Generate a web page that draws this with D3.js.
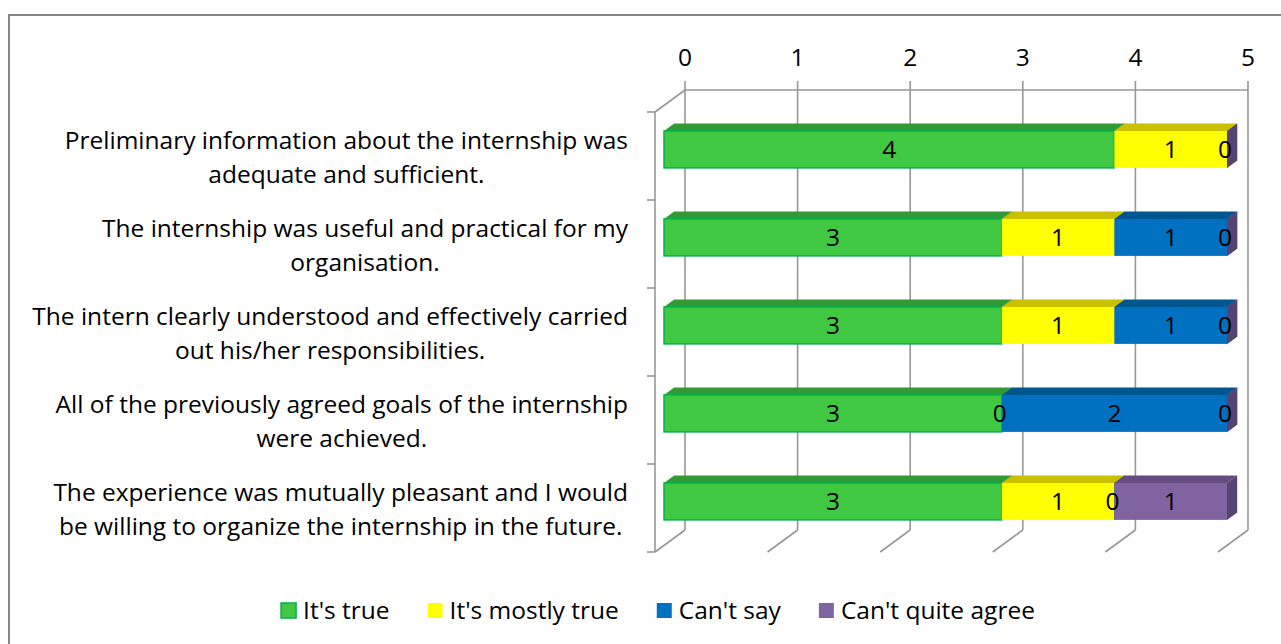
<!DOCTYPE html>
<html>
<head>
<meta charset="utf-8">
<script src="https://cdn.jsdelivr.net/npm/d3@7"></script>
<style>
  body { margin: 0; background: #fff; }
  text { font-family: "Open Sans", "Noto Sans", sans-serif; fill: #000; }
</style>
</head>
<body>
<script>
// categories, wrapped the way the original labels wrap
var categories = ['Q1', 'Q2', 'Q3', 'Q4', 'Q5'];
var categoryLines = [
    ['Preliminary information about the internship was', 'adequate and sufficient.'],
    ['The internship was useful and practical for my', 'organisation.'],
    ['The intern clearly understood and effectively carried', 'out his/her responsibilities.'],
    ['All of the previously agreed goals of the internship', 'were achieved.'],
    ['The experience was mutually pleasant and I would', 'be willing to organize the internship in the future.']
];
var seriesNames = ["It's true", "It's mostly true", "Can't say", "Can't quite agree"];
var itsTrue = [4, 3, 3, 3, 3];
var mostlyTrue = [1, 1, 1, 0, 1];
var cantSay = [null, 1, 1, 2, 0];
var cantAgree = [0, 0, 0, 0, 1];
var xTicks = [0, 1, 2, 3, 4, 5];

var colors = {
    front: ['#41c842', '#ffff00', '#0070c0', '#8064a2'],
    top: ['#339933', '#c8c000', '#00568f', '#654c80'],
    side: ['#2a7f2a', '#a6a000', '#004677', '#564372']
};

var W = 1281, H = 644;
var fs = 24.5;
var svg = d3.select('body').append('svg')
    .attr('width', W)
    .attr('height', H);

// chart border
svg.append('rect')
    .attr('x', 9).attr('y', 15)
    .attr('width', 1300).attr('height', 660)
    .attr('fill', 'none')
    .attr('stroke', '#878787')
    .attr('stroke-width', 2);

var depth = { dx: 30, dy: 22 }; // floor depth (front plane -> back wall)
var x = d3.scaleLinear().domain([0, 5]).range([655, 1218]); // front plane
var y = d3.scaleBand().domain(categories).range([112, 552])
    .paddingInner(0.58).paddingOuter(0.29);
var step = y.step();
var yTop = 112, yBottom = 552;

// projection: z = 0 front plane, z = 1 back wall
var proj = function(v, yy, z) {
    return [x(v) + z * depth.dx, yy - z * depth.dy];
};

var grid = svg.append('g').attr('stroke', '#979797').attr('stroke-width', 1.6).attr('fill', 'none');

// back wall verticals + ticks above
xTicks.forEach(function(t) {
    var a = proj(t, yTop, 1), b = proj(t, yBottom, 1), c = proj(t, yBottom, 0);
    grid.append('line').attr('x1', a[0]).attr('y1', a[1] - 9).attr('x2', b[0]).attr('y2', b[1]);
    grid.append('line').attr('x1', b[0]).attr('y1', b[1]).attr('x2', c[0]).attr('y2', c[1]);
});
// top edge of back wall
var tl = proj(0, yTop, 1), tr = proj(5, yTop, 1);
grid.append('line').attr('x1', tl[0]).attr('y1', tl[1]).attr('x2', tr[0]).attr('y2', tr[1]);
// left wall
var fl = proj(0, yTop, 0);
grid.append('line').attr('x1', tl[0]).attr('y1', tl[1]).attr('x2', fl[0]).attr('y2', fl[1]);
grid.append('line').attr('x1', fl[0]).attr('y1', yTop).attr('x2', fl[0]).attr('y2', yBottom);
d3.range(categories.length + 1).forEach(function(i) {
    var yy = yTop + i * step;
    grid.append('line').attr('x1', fl[0] - 8).attr('y1', yy).attr('x2', fl[0]).attr('y2', yy);
});

// top axis labels
svg.append('g').selectAll('text')
    .data(xTicks)
    .enter()
    .append('text')
    .attr('x', function(d) { return proj(d, yTop, 1)[0]; })
    .attr('y', 66)
    .attr('text-anchor', 'middle')
    .attr('font-size', fs)
    .text(function(d) { return d; });

// category labels: first line right aligned, second centred under it
var labels = svg.append('g');
categories.forEach(function(c, i) {
    var cy = y(c) + y.bandwidth() / 2;
    var right = 628;
    var l1 = labels.append('text')
        .attr('x', right).attr('y', cy - 7)
        .attr('text-anchor', 'end')
        .attr('font-size', fs)
        .text(categoryLines[i][0]);
    var w1 = l1.node().getComputedTextLength();
    labels.append('text')
        .attr('x', right - w1 / 2).attr('y', cy + 27)
        .attr('text-anchor', 'middle')
        .attr('font-size', fs)
        .text(categoryLines[i][1]);
});

// bars
var series = [itsTrue, mostlyTrue, cantSay, cantAgree];
var zf = 0.3, zb = 0.64;
var pts = function(arr) { return arr.map(function(p) { return p.join(','); }).join(' '); };

var bars = svg.append('g');
categories.forEach(function(c, i) {
    var y0 = y(c), y1 = y(c) + y.bandwidth();
    var start = 0;
    series.forEach(function(s, k) {
        var v = s[i];
        if (v === null) return;
        var a = start, b = start + v;
        var g = bars.append('g');
        // top face
        g.append('polygon')
            .attr('points', pts([proj(a, y0, zf), proj(b, y0, zf), proj(b, y0, zb), proj(a, y0, zb)]))
            .attr('fill', colors.top[k]);
        // right side face
        g.append('polygon')
            .attr('points', pts([proj(b, y0, zf), proj(b, y0, zb), proj(b, y1, zb), proj(b, y1, zf)]))
            .attr('fill', colors.side[k]);
        // front face
        var p0 = proj(a, y0, zf), p1 = proj(b, y1, zf);
        if (v > 0) {
            g.append('rect')
                .attr('x', p0[0]).attr('y', p0[1])
                .attr('width', p1[0] - p0[0]).attr('height', p1[1] - p0[1])
                .attr('fill', colors.front[k])
                .attr('stroke', k === 0 ? '#00b050' : 'none')
                .attr('stroke-width', 1.5);
        }
        start = b;
    });
});

// data labels
var dl = svg.append('g');
categories.forEach(function(c, i) {
    var cy = y(c) + y.bandwidth() / 2;
    var start = 0;
    series.forEach(function(s, k) {
        var v = s[i];
        if (v === null) return;
        var p = proj(start + v / 2, cy, zf);
        dl.append('text')
            .attr('x', v === 0 ? p[0] - 2 : p[0])
            .attr('y', p[1] + 8.5)
            .attr('text-anchor', 'middle')
            .attr('font-size', fs)
            .text(v);
        start += v;
    });
});

// legend
var legend = svg.append('g');
var lx = 0;
seriesNames.forEach(function(name, k) {
    var g = legend.append('g').attr('transform', 'translate(' + lx + ',0)');
    g.append('rect')
        .attr('x', 0).attr('y', 603)
        .attr('width', 15).attr('height', 15)
        .attr('fill', colors.front[k])
        .attr('stroke', k === 0 ? '#00b050' : 'none')
        .attr('stroke-width', 1.5);
    var t = g.append('text')
        .attr('x', 22).attr('y', 619)
        .attr('font-size', fs)
        .text(name);
    lx += 22 + t.node().getComputedTextLength() + 38;
});
var lw = lx - 38;
legend.attr('transform', 'translate(' + (658 - lw / 2) + ',0)');
</script>
</body>
</html>
